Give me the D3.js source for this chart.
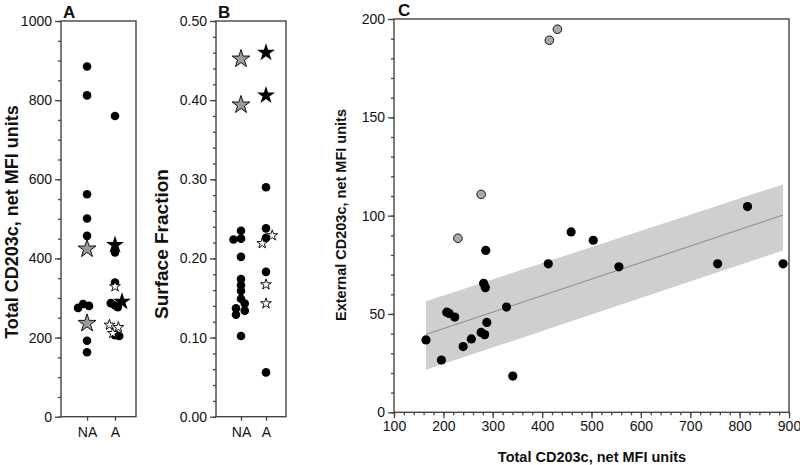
<!DOCTYPE html>
<html><head><meta charset="utf-8">
<script src="https://cdn.jsdelivr.net/npm/d3@7"></script>
<style>
body{margin:0;background:#fff;}
svg text{font-family:"Liberation Sans",Arial,Helvetica,sans-serif;fill:#111;}
.axis path,.axis line{stroke:#444;stroke-width:1.3;}
.axis text{font-size:14px;}
</style></head><body>
<svg id="chart" width="800" height="465"></svg>
<script>
// ---------- data ----------
const groups = ["NA", "A"];
// Panel A: total CD203c
const aNACircles = [885, 812, 562, 501, 457, 275, 285, 280, 192, 163];
const aNACirclesJit = [0, 0, 0, 0, 0, -0.32, -0.14, 0.07, 0, 0];
const aNAGrayStars = [424, 236];
const aACircles = [760, 415, 339, 287, 281, 277, 206, 204];
const aACirclesJit = [0, 0, 0, -0.15, 0, 0.1, 0, 0.15];
const aABlackStars = [434, 291];
const aABlackStarsJit = [0, 0.25];
const aAOpenStars = [329, 232, 226, 211];
const aAOpenStarsJit = [0, -0.2, 0.12, -0.08];
const aTicks = [0, 200, 400, 600, 800, 1000];

// Panel B: surface fraction
const bNACircles = [0.235, 0.224, 0.225, 0.202, 0.174, 0.166, 0.159, 0.149, 0.143, 0.137, 0.134, 0.129, 0.102];
const bNACirclesJit = [0, -0.3, 0, 0, 0, 0, 0, 0, 0.15, -0.2, 0.15, -0.2, 0];
const bNAGrayStars = [0.452, 0.394];
const bACircles = [0.290, 0.238, 0.226, 0.183, 0.056];
const bABlackStars = [0.460, 0.406];
const bAOpenStars = [0.229, 0.219, 0.167, 0.143];
const bAOpenStarsJit = [0.25, -0.15, 0, 0];
const bTicks = [0, 0.1, 0.2, 0.3, 0.4, 0.5];

// Panel C: external vs total
const cGrayX = [414.6, 431, 276.5, 229.5];
const cGrayY = [189.2, 194.8, 110.8, 88.5];
const cBlackX = [164.8, 196, 206.8, 211.7, 223, 240, 256.6, 276.5, 283.6, 281.5, 285, 285.8, 288, 327.8, 340.6, 412.5, 458.7, 503.6, 555.5, 755.5, 816, 888];
const cBlackY = [36.8, 26.6, 50.9, 50.3, 48.4, 33.4, 37.3, 40.6, 39.5, 65.6, 63.4, 82.3, 45.7, 53.5, 18.4, 75.5, 91.7, 87.5, 74, 75.5, 104.6, 75.5];
const fitX = [164.8, 888];
const fitY = [39.6, 100.3];
const bandLow = [21.6, 82.3];
const bandHigh = [56.5, 115.9];
const cXTicks = [100, 200, 300, 400, 500, 600, 700, 800, 900];
const cYTicks = [0, 50, 100, 150, 200];

// ---------- drawing ----------
const svg = d3.select("#chart");
const bigStar = d3.symbol().type(d3.symbolStar).size(100);
const smallStar = d3.symbol().type(d3.symbolStar).size(36);

function stripPanel(cfg) {
  const g = svg.append("g");
  const x = d3.scaleLinear().domain(cfg.xDomain).range(cfg.xRange);
  const y = d3.scaleLinear().domain(cfg.yDomain).range(cfg.yRange);
  g.append("rect").attr("x", cfg.xRange[0]).attr("y", cfg.yRange[1])
    .attr("width", cfg.xRange[1] - cfg.xRange[0]).attr("height", cfg.yRange[0] - cfg.yRange[1])
    .attr("fill", "none").attr("stroke", "#444").attr("stroke-width", 1.4);
  g.append("g").attr("class", "axis").attr("transform", `translate(${cfg.xRange[0]},0)`)
    .call(d3.axisLeft(y).tickValues(cfg.minor).tickSize(3).tickFormat(""))
    .call(s => s.select(".domain").remove());
  g.append("g").attr("class", "axis").attr("transform", `translate(${cfg.xRange[0]},0)`)
    .call(d3.axisLeft(y).tickValues(cfg.ticks).tickSize(6).tickPadding(3).tickFormat(cfg.fmt))
    .call(s => s.select(".domain").remove());
  g.append("g").attr("class", "axis").attr("transform", `translate(0,${cfg.yRange[0]})`)
    .call(d3.axisBottom(x).tickValues([0, 1]).tickSize(4).tickPadding(6).tickFormat(i => groups[i]))
    .call(s => s.select(".domain").remove());
  const put = (vals, jit, grp, kind) => {
    vals.forEach((v, i) => {
      const cx = x(grp + (jit ? jit[i] : 0)), cy = y(v);
      if (kind === "circle") {
        g.append("circle").attr("cx", cx).attr("cy", cy).attr("r", 4.3).attr("fill", "#000");
      } else if (kind === "gray") {
        g.append("path").attr("d", bigStar()).attr("transform", `translate(${cx},${cy})`)
          .attr("fill", "#9a9a9a").attr("stroke", "#111").attr("stroke-width", 1);
      } else if (kind === "black") {
        g.append("path").attr("d", bigStar()).attr("transform", `translate(${cx},${cy})`)
          .attr("fill", "#000");
      } else {
        g.append("path").attr("d", smallStar()).attr("transform", `translate(${cx},${cy})`)
          .attr("fill", "#fff").attr("stroke", "#111").attr("stroke-width", 1);
      }
    });
  };
  cfg.sets.forEach(s => put(s[0], s[1], s[2], s[3]));
  g.append("text").attr("x", cfg.xRange[0] + 2).attr("y", cfg.letterY)
    .attr("font-size", 17).attr("font-weight", "bold").text(cfg.letter);
  g.append("text").attr("transform", `translate(${cfg.ylabX},${cfg.ylabY}) rotate(-90)`)
    .attr("text-anchor", "middle").attr("font-size", cfg.ylabSize).attr("font-weight", "bold").text(cfg.ylab);
}

stripPanel({
  xDomain: [-0.93, 1.75], xRange: [61, 136], yDomain: [0, 1000], yRange: [416.7, 21],
  ticks: aTicks, minor: d3.range(0, 1001, 50), fmt: d3.format("d"),
  sets: [[aNACircles, aNACirclesJit, 0, "circle"], [aNAGrayStars, null, 0, "gray"],
         [aACircles, aACirclesJit, 1, "circle"], [aAOpenStars, aAOpenStarsJit, 1, "open"],
         [aABlackStars, aABlackStarsJit, 1, "black"]],
  letter: "A", letterY: 18, ylab: "Total CD203c, net MFI units", ylabX: 18, ylabY: 222, ylabSize: 18
});

stripPanel({
  xDomain: [-1.0, 1.8], xRange: [216, 286], yDomain: [0, 0.5], yRange: [416.7, 21],
  ticks: bTicks, minor: d3.range(0, 0.501, 0.02), fmt: d3.format(".2f"),
  sets: [[bNACircles, bNACirclesJit, 0, "circle"], [bNAGrayStars, null, 0, "gray"],
         [bACircles, null, 1, "circle"], [bAOpenStars, bAOpenStarsJit, 1, "open"],
         [bABlackStars, null, 1, "black"]],
  letter: "B", letterY: 17.5, ylab: "Surface Fraction", ylabX: 168, ylabY: 244, ylabSize: 19
});

// Panel C
(function () {
  const g = svg.append("g");
  const x = d3.scaleLinear().domain([100, 900]).range([394, 789]);
  const y = d3.scaleLinear().domain([0, 200]).range([412.3, 19]);
  g.append("rect").attr("x", 394).attr("y", 19).attr("width", 789 - 394).attr("height", 412.3 - 19)
    .attr("fill", "none").attr("stroke", "#444").attr("stroke-width", 1.4);
  const bandPts = fitX.map((v, i) => [x(v), y(bandHigh[i])])
    .concat(fitX.map((v, i) => [x(v), y(bandLow[i])]).reverse());
  g.append("path").attr("d", d3.line()(bandPts) + "Z").attr("fill", "#cfcfcf").attr("stroke", "none");
  g.append("path").attr("d", d3.line()(fitX.map((v, i) => [x(v), y(fitY[i])])))
    .attr("stroke", "#8a8a8a").attr("stroke-width", 1).attr("fill", "none");
  g.append("g").attr("class", "axis").attr("transform", "translate(394,0)")
    .call(d3.axisLeft(y).tickValues(d3.range(0, 201, 10)).tickSize(3).tickFormat(""))
    .call(s => s.select(".domain").remove());
  g.append("g").attr("class", "axis").attr("transform", "translate(394,0)")
    .call(d3.axisLeft(y).tickValues(cYTicks).tickSize(6).tickPadding(3))
    .call(s => s.select(".domain").remove());
  g.append("g").attr("class", "axis").attr("transform", "translate(0,412.3)")
    .call(d3.axisBottom(x).tickValues(d3.range(100, 901, 20)).tickSize(3).tickFormat(""))
    .call(s => s.select(".domain").remove());
  g.append("g").attr("class", "axis").attr("transform", "translate(0,412.3)")
    .call(d3.axisBottom(x).tickValues(cXTicks).tickSize(6).tickPadding(3))
    .call(s => s.select(".domain").remove());
  g.selectAll(".blk").data(cBlackX).join("circle").attr("cx", d => x(d)).attr("cy", (d, i) => y(cBlackY[i]))
    .attr("r", 4.6).attr("fill", "#000");
  g.selectAll(".gry").data(cGrayX).join("circle").attr("cx", d => x(d)).attr("cy", (d, i) => y(cGrayY[i]))
    .attr("r", 4.3).attr("fill", "#aaa").attr("stroke", "#111").attr("stroke-width", 1);
  g.append("text").attr("x", 398).attr("y", 16).attr("font-size", 17).attr("font-weight", "bold").text("C");
  g.append("text").attr("x", 592).attr("y", 462).attr("text-anchor", "middle")
    .attr("font-size", 14.5).attr("font-weight", "bold").text("Total CD203c, net MFI units");
  g.append("text").attr("transform", "translate(346,215) rotate(-90)").attr("text-anchor", "middle")
    .attr("font-size", 14.5).attr("font-weight", "bold").text("External CD203c, net MFI units");
})();
</script></body></html>
